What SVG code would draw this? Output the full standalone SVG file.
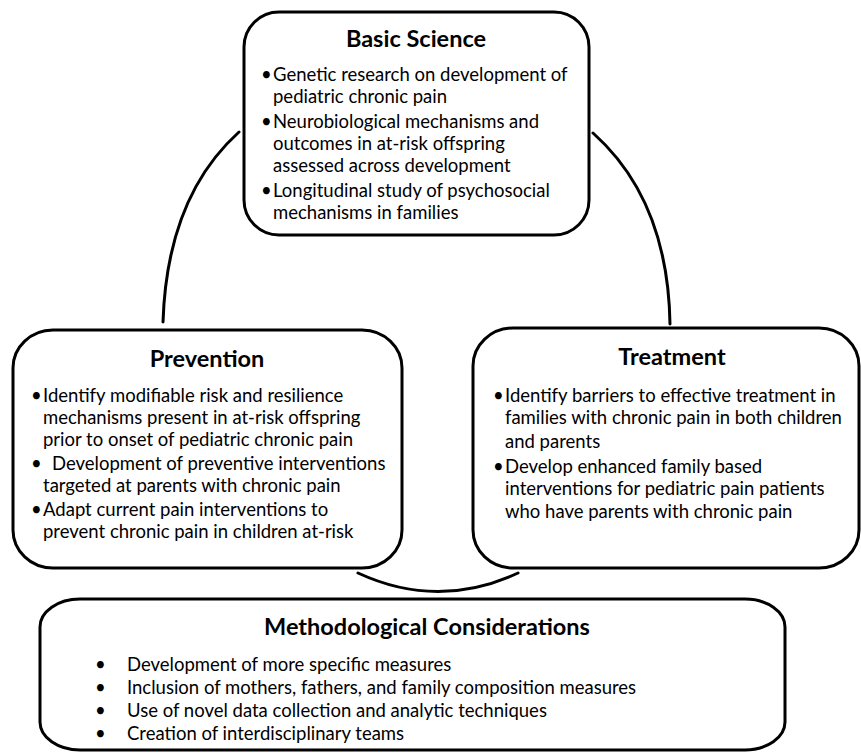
<svg xmlns="http://www.w3.org/2000/svg" width="861" height="753" viewBox="0 0 861 753">
<style>
  .box { fill: #ffffff; stroke: #000000; stroke-width: 3; }
  .conn { fill: none; stroke: #000000; stroke-width: 3; stroke-linecap: round; }
  .title { font-family: Lato, "Liberation Sans", sans-serif; font-weight: bold; font-size: 23.5px; fill: #000; text-anchor: middle; }
  .txt { font-family: Lato, "Liberation Sans", sans-serif; font-size: 18.5px; fill: #000; }
</style>
<rect width="861" height="753" fill="#ffffff"/>
<g id="connectors">
  <path class="conn" d="M239,132 Q167,197 163,322"/>
  <path class="conn" d="M593,133 Q668,200 670,324"/>
  <path class="conn" d="M358,573 Q438,610 518,573"/>
</g>
<g id="basic-science">
  <rect class="box" x="244" y="12" width="345" height="223" rx="35" ry="35"/>
  <text class="title" x="416" y="47">Basic Science</text>
  <text class="txt" x="261" y="81">•</text>
  <text class="txt" x="273" y="81">Genetic research on development of</text>
  <text class="txt" x="273" y="103">pediatric chronic pain</text>
  <text class="txt" x="261" y="128">•</text>
  <text class="txt" x="273" y="128">Neurobiological mechanisms and</text>
  <text class="txt" x="273" y="150">outcomes in at-risk offspring</text>
  <text class="txt" x="273" y="172">assessed across development</text>
  <text class="txt" x="261" y="197">•</text>
  <text class="txt" x="273" y="197">Longitudinal study of psychosocial</text>
  <text class="txt" x="273" y="219">mechanisms in families</text>
</g>
<g id="prevention">
  <rect class="box" x="13" y="330" width="389" height="238" rx="40" ry="38"/>
  <text class="title" x="207" y="367">Prevention</text>
  <text class="txt" x="31" y="402">•</text>
  <text class="txt" x="43" y="402">Identify modifiable risk and resilience</text>
  <text class="txt" x="43" y="424">mechanisms present in at-risk offspring</text>
  <text class="txt" x="43" y="446">prior to onset of pediatric chronic pain</text>
  <text class="txt" x="31" y="470">•</text>
  <text class="txt" x="52" y="470">Development of preventive interventions</text>
  <text class="txt" x="43" y="492">targeted at parents with chronic pain</text>
  <text class="txt" x="31" y="516">•</text>
  <text class="txt" x="43" y="516">Adapt current pain interventions to</text>
  <text class="txt" x="43" y="538">prevent chronic pain in children at-risk</text>
</g>
<g id="treatment">
  <rect class="box" x="473" y="328" width="386" height="240" rx="40" ry="38"/>
  <text class="title" x="672" y="365">Treatment</text>
  <text class="txt" x="493" y="402">•</text>
  <text class="txt" x="505" y="402">Identify barriers to effective treatment in</text>
  <text class="txt" x="505" y="424">families with chronic pain in both children</text>
  <text class="txt" x="505" y="448">and parents</text>
  <text class="txt" x="493" y="473">•</text>
  <text class="txt" x="505" y="473">Develop enhanced family based</text>
  <text class="txt" x="505" y="495">interventions for pediatric pain patients</text>
  <text class="txt" x="505" y="518">who have parents with chronic pain</text>
</g>
<g id="methodological-considerations">
  <rect class="box" x="40" y="599" width="745" height="151" rx="40" ry="28"/>
  <text class="title" x="427" y="635">Methodological Considerations</text>
  <text class="txt" x="95" y="671">•</text>
  <text class="txt" x="127" y="671">Development of more specific measures</text>
  <text class="txt" x="95" y="694">•</text>
  <text class="txt" x="127" y="694">Inclusion of mothers, fathers, and family composition measures</text>
  <text class="txt" x="95" y="717">•</text>
  <text class="txt" x="127" y="717">Use of novel data collection and analytic techniques</text>
  <text class="txt" x="95" y="740">•</text>
  <text class="txt" x="127" y="740">Creation of interdisciplinary teams</text>
</g>
</svg>
